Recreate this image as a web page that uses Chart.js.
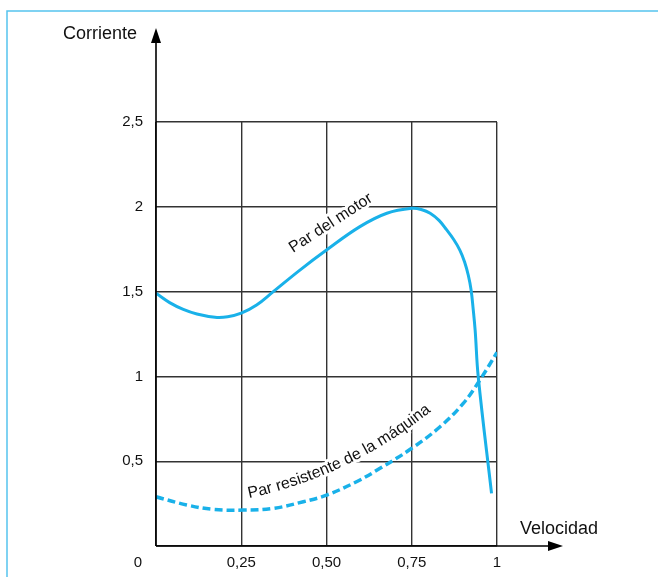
<!DOCTYPE html>
<html>
<head>
<meta charset="utf-8">
<script src="https://cdn.jsdelivr.net/npm/chart.js@4"></script>
<style>
  body { margin: 0; background: #fff; }
</style>
</head>
<body>
<canvas id="myChart" width="658" height="577"></canvas>
<script>

// curva del par del motor
var motorX = [0, 0.04, 0.08, 0.12, 0.173, 0.21, 0.25, 0.295, 0.344, 0.422, 0.5, 0.598, 0.677, 0.75, 0.78, 0.804, 0.83, 0.852, 0.872, 0.891, 0.905, 0.916, 0.924, 0.93, 0.936, 0.945, 0.984];
var motorY = [1.49, 1.435, 1.395, 1.368, 1.349, 1.352, 1.373, 1.421, 1.50, 1.627, 1.745, 1.883, 1.962, 1.991, 1.983, 1.962, 1.92, 1.865, 1.81, 1.745, 1.675, 1.595, 1.51, 1.40, 1.27, 0.998, 0.31];

// par resistente de la maquina
var cargaX = [0, 0.09, 0.168, 0.256, 0.344, 0.432, 0.5, 0.588, 0.657, 0.75, 0.833, 0.901, 0.95, 1];
var cargaY = [0.29, 0.242, 0.216, 0.212, 0.222, 0.261, 0.30, 0.379, 0.458, 0.576, 0.703, 0.841, 0.979, 1.142];

var xTicks = [0.25, 0.5, 0.75, 1];
var xTickLabels = ["0,25", "0,50", "0,75", "1"];
var yTicks = [0.5, 1, 1.5, 2, 2.5];
var yTickLabels = ["0,5", "1", "1,5", "2", "2,5"];

var azul = "#19b1e9";
var fuente = "'Liberation Sans', Arial, sans-serif";

function toPoints(xs, ys) {
  var pts = [];
  for (var i = 0; i < xs.length; i++) {
    pts.push({ x: xs[i], y: ys[i] });
  }
  return pts;
}

function arrow(ctx, tipX, tipY, dir) {
  ctx.beginPath();
  if (dir === "up") {
    ctx.moveTo(tipX, tipY);
    ctx.lineTo(tipX - 5, tipY + 15);
    ctx.lineTo(tipX + 5, tipY + 15);
  } else {
    ctx.moveTo(tipX, tipY);
    ctx.lineTo(tipX - 15, tipY - 5);
    ctx.lineTo(tipX - 15, tipY + 5);
  }
  ctx.closePath();
  ctx.fill();
}

// texto siguiendo un arco: primero el fondo blanco, luego las letras
function arcText(ctx, txt, x, y, a0, a1) {
  var total = ctx.measureText(txt).width;
  var placed = [];
  var px = x, py = y, done = 0;
  for (var i = 0; i < txt.length; i++) {
    var w = ctx.measureText(txt[i]).width;
    var ang = (a0 + (a1 - a0) * (done + w / 2) / total) * Math.PI / 180;
    placed.push({ ch: txt[i], x: px, y: py, a: ang });
    px += w * Math.cos(ang);
    py += w * Math.sin(ang);
    done += w;
  }
  for (var pass = 0; pass < 2; pass++) {
    placed.forEach(function (p) {
      ctx.save();
      ctx.translate(p.x, p.y);
      ctx.rotate(p.a);
      if (pass === 0) ctx.strokeText(p.ch, 0, 0);
      else ctx.fillText(p.ch, 0, 0);
      ctx.restore();
    });
  }
}

var etiquetas = {
  id: "etiquetas",
  beforeDatasetsDraw: function (chart) {
    var ctx = chart.ctx;
    ctx.save();
    ctx.font = "16px " + fuente;
    ctx.fillStyle = "#111";
    ctx.strokeStyle = "#fff";
    ctx.lineWidth = 6;
    ctx.lineJoin = "round";
    ctx.textBaseline = "alphabetic";
    ctx.textAlign = "left";

    arcText(ctx, "Par del motor", 293, 253, -33, -33);
    arcText(ctx, "Par resistente de la máquina", 249, 498, -12, -39);
    ctx.restore();
  }
};

var ejes = {
  id: "ejes",
  afterDraw: function (chart) {
    var ctx = chart.ctx;
    var xs = chart.scales.x, ys = chart.scales.y;
    var x0 = xs.getPixelForValue(0);
    var y0 = ys.getPixelForValue(0);
    ctx.save();

    // marco azul
    ctx.strokeStyle = "#55c3ee";
    ctx.lineWidth = 1.5;
    ctx.beginPath();
    ctx.moveTo(7, 577);
    ctx.lineTo(7, 11);
    ctx.lineTo(658, 11);
    ctx.stroke();

    // ejes con flechas
    ctx.strokeStyle = "#000";
    ctx.fillStyle = "#000";
    ctx.lineWidth = 1.6;
    ctx.beginPath();
    ctx.moveTo(x0, y0);
    ctx.lineTo(x0, 40);
    ctx.moveTo(x0, y0);
    ctx.lineTo(550, y0);
    ctx.stroke();
    arrow(ctx, x0, 28, "up");
    arrow(ctx, 563, y0, "right");

    ctx.fillStyle = "#111";
    ctx.font = "18px " + fuente;
    ctx.textBaseline = "alphabetic";
    ctx.textAlign = "right";
    ctx.fillText("Corriente", 137, 39);
    ctx.textAlign = "left";
    ctx.fillText("Velocidad", 520, 534);

    ctx.font = "15px " + fuente;
    ctx.textBaseline = "middle";
    ctx.textAlign = "right";
    for (var i = 0; i < yTicks.length; i++) {
      ctx.fillText(yTickLabels[i], x0 - 13, ys.getPixelForValue(yTicks[i]));
    }
    ctx.textAlign = "center";
    for (var j = 0; j < xTicks.length; j++) {
      ctx.fillText(xTickLabels[j], xs.getPixelForValue(xTicks[j]), y0 + 17);
    }
    ctx.fillText("0", x0 - 18, y0 + 17);
    ctx.restore();
  }
};

var ctx = document.getElementById("myChart").getContext("2d");

var myChart = new Chart(ctx, {
  type: "scatter",
  data: {
    datasets: [{
      label: "Par del motor",
      data: toPoints(motorX, motorY),
      showLine: true,
      borderColor: azul,
      borderWidth: 3,
      pointRadius: 0,
      tension: 0.4
    }, {
      label: "Par resistente de la máquina",
      data: toPoints(cargaX, cargaY),
      showLine: true,
      borderColor: azul,
      borderWidth: 3.5,
      borderDash: [8, 4],
      pointRadius: 0,
      tension: 0.4
    }]
  },
  options: {
    responsive: false,
    animation: false,
    layout: { padding: { left: 156, right: 161, top: 122, bottom: 31 } },
    plugins: {
      legend: { display: false },
      tooltip: { enabled: false }
    },
    scales: {
      x: {
        type: "linear",
        min: 0,
        max: 1,
        afterBuildTicks: function (axis) {
          axis.ticks = [0, 0.25, 0.5, 0.75, 1].map(function (v) { return { value: v }; });
        },
        ticks: { display: false },
        grid: { color: "#333", lineWidth: 1.4, drawTicks: false },
        border: { display: false }
      },
      y: {
        min: 0,
        max: 2.5,
        afterBuildTicks: function (axis) {
          axis.ticks = [0, 0.5, 1, 1.5, 2, 2.5].map(function (v) { return { value: v }; });
        },
        ticks: { display: false },
        grid: { color: "#333", lineWidth: 1.4, drawTicks: false },
        border: { display: false }
      }
    }
  },
  plugins: [etiquetas, ejes]
});
</script>
</body>
</html>
